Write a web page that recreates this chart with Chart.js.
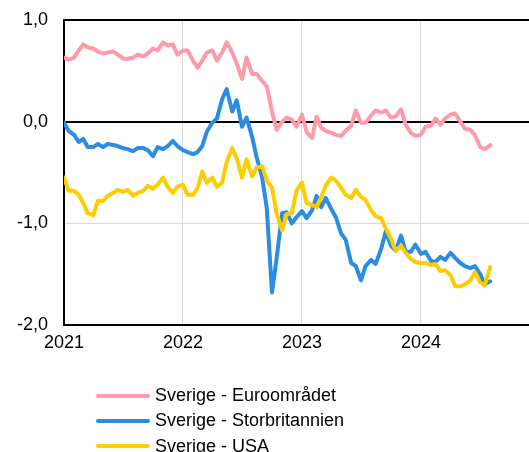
<!DOCTYPE html>
<html>
<head>
<meta charset="utf-8">
<script src="https://cdn.jsdelivr.net/npm/chart.js@4.4.1/dist/chart.umd.min.js"></script>
<style>
  body { margin: 0; background: #fff; font-family: "Liberation Sans", Arial, sans-serif; }
  #wrap { position: relative; width: 529px; height: 452px; overflow: hidden; }
  #legend { position: absolute; left: 96px; top: 383px; font-size: 18px; color: #000; }
  .item { display: flex; align-items: center; height: 25.3px; white-space: nowrap; }
  .swatch { width: 54px; height: 4px; border-radius: 2px; margin-right: 5px; }
</style>
</head>
<body>
<div id="wrap">
  <canvas id="chart" width="529" height="452"></canvas>
  <div id="legend"></div>
</div>
<script>
// semi-monthly observations
const dates = [
  "2021-01-01","2021-01-15","2021-02-01","2021-02-15","2021-03-01","2021-03-15","2021-04-01","2021-04-15","2021-05-01","2021-05-15","2021-06-01","2021-06-15",
  "2021-07-01","2021-07-15","2021-08-01","2021-08-15","2021-09-01","2021-09-15","2021-10-01","2021-10-15","2021-11-01","2021-11-15","2021-12-01","2021-12-15",
  "2022-01-01","2022-01-15","2022-02-01","2022-02-15","2022-03-01","2022-03-15","2022-04-01","2022-04-15","2022-05-01","2022-05-15","2022-06-01","2022-06-15",
  "2022-07-01","2022-07-15","2022-08-01","2022-08-15","2022-09-01","2022-09-15","2022-10-01","2022-10-15","2022-11-01","2022-11-15","2022-12-01","2022-12-15",
  "2023-01-01","2023-01-15","2023-02-01","2023-02-15","2023-03-01","2023-03-15","2023-04-01","2023-04-15","2023-05-01","2023-05-15","2023-06-01","2023-06-15",
  "2023-07-01","2023-07-15","2023-08-01","2023-08-15","2023-09-01","2023-09-15","2023-10-01","2023-10-15","2023-11-01","2023-11-15","2023-12-01","2023-12-15",
  "2024-01-01","2024-01-15","2024-02-01","2024-02-15","2024-03-01","2024-03-15","2024-04-01","2024-04-15","2024-05-01","2024-05-15","2024-06-01","2024-06-15",
  "2024-07-01","2024-07-15","2024-08-01"
];

const seEuro = [
  0.63,0.61,0.63,0.70,0.76,0.73,0.72,0.69,0.67,0.68,0.69,0.66,
  0.62,0.62,0.63,0.66,0.64,0.67,0.72,0.70,0.78,0.75,0.76,0.66,
  0.70,0.70,0.60,0.53,0.60,0.68,0.70,0.60,0.68,0.78,0.68,0.57,
  0.42,0.63,0.47,0.47,0.40,0.35,0.10,-0.08,0.00,0.04,0.02,-0.05,
  0.07,-0.10,-0.16,0.05,-0.06,-0.09,-0.11,-0.13,-0.14,-0.09,-0.04,0.11,
  -0.01,-0.01,0.06,0.11,0.09,0.11,0.04,0.05,0.12,-0.03,-0.11,-0.14,
  -0.13,-0.05,-0.04,0.03,-0.03,0.03,0.07,0.08,0.00,-0.07,-0.08,-0.13,
  -0.25,-0.27,-0.23
];

const seUk = [
  -0.01,-0.09,-0.13,-0.20,-0.17,-0.25,-0.25,-0.22,-0.25,-0.22,-0.23,-0.24,
  -0.26,-0.27,-0.29,-0.26,-0.26,-0.28,-0.34,-0.25,-0.27,-0.24,-0.19,-0.24,
  -0.28,-0.30,-0.32,-0.30,-0.24,-0.10,-0.01,0.03,0.22,0.32,0.10,0.21,
  -0.05,0.04,-0.15,-0.35,-0.55,-0.85,-1.68,-1.35,-0.90,-0.89,-1.00,-0.94,
  -0.88,-0.95,-0.87,-0.73,-0.84,-0.75,-0.86,-0.94,-1.10,-1.16,-1.39,-1.42,
  -1.56,-1.42,-1.36,-1.40,-1.25,-1.08,-1.22,-1.27,-1.12,-1.28,-1.28,-1.21,
  -1.30,-1.28,-1.37,-1.38,-1.33,-1.36,-1.29,-1.34,-1.39,-1.42,-1.44,-1.42,
  -1.50,-1.60,-1.57
];

const seUsa = [
  -0.55,-0.68,-0.68,-0.72,-0.80,-0.90,-0.92,-0.78,-0.78,-0.73,-0.70,-0.67,
  -0.69,-0.67,-0.73,-0.70,-0.68,-0.63,-0.66,-0.62,-0.55,-0.64,-0.70,-0.64,
  -0.62,-0.72,-0.72,-0.65,-0.49,-0.60,-0.55,-0.64,-0.60,-0.40,-0.26,-0.36,
  -0.55,-0.37,-0.54,-0.45,-0.44,-0.58,-0.65,-0.90,-1.07,-0.91,-0.90,-0.68,
  -0.60,-0.80,-0.82,-0.84,-0.74,-0.63,-0.55,-0.58,-0.65,-0.72,-0.75,-0.67,
  -0.74,-0.77,-0.87,-0.93,-0.95,-1.05,-1.15,-1.27,-1.22,-1.29,-1.35,-1.38,
  -1.39,-1.39,-1.41,-1.40,-1.47,-1.46,-1.51,-1.62,-1.62,-1.60,-1.56,-1.48,
  -1.58,-1.61,-1.43
];

const seriesNames = ["Sverige - Euroområdet", "Sverige - Storbritannien", "Sverige - USA"];
const seriesColors = ["#ff9aab", "#2a8de1", "#ffcc00"];
const xTicks = [2021, 2022, 2023, 2024];
const yTicks = [-2, -1, 0, 1];

// date string -> decimal year
function toYear(s) {
  const [y, m, d] = s.split("-").map(Number);
  const t0 = Date.UTC(y, 0, 1);
  const t1 = Date.UTC(y + 1, 0, 1);
  return y + (Date.UTC(y, m - 1, d) - t0) / (t1 - t0);
}
const xs = dates.map(toYear);
const points = (vals) => vals.map((v, i) => ({ x: xs[i], y: v }));

const allSeries = [seEuro, seUk, seUsa];
const datasets = allSeries.map((vals, i) => ({
  label: seriesNames[i],
  data: points(vals),
  borderColor: seriesColors[i],
  backgroundColor: seriesColors[i],
  order: 3 - i,
}));

const isBlack = (v) => v === 0 || v === 1;
const tickFont = { size: 18, family: "'Liberation Sans', Arial, sans-serif" };

new Chart(document.getElementById("chart"), {
  type: "line",
  data: { datasets: datasets },
  options: {
    responsive: false,
    animation: false,
    layout: { padding: { top: 20, right: 0, bottom: 97, left: 0 } },
    plugins: { legend: { display: false }, tooltip: { enabled: false } },
    elements: {
      point: { radius: 0 },
      line: { borderWidth: 4, tension: 0, borderJoinStyle: "round", borderCapStyle: "round" },
    },
    scales: {
      x: {
        type: "linear",
        min: 2021,
        max: 2024.908,
        afterBuildTicks: (s) => {
          s.ticks = xTicks.map((v) => ({ value: v }));
        },
        afterFit: (s) => {
          s.height = 30;
          s.paddingLeft = 0;
          s.paddingRight = 0;
        },
        ticks: {
          color: "#000",
          font: tickFont,
          padding: 7,
          maxRotation: 0,
          callback: (v) => String(v),
        },
        grid: { color: "#d9d9d9", lineWidth: 1, drawTicks: false },
        border: { color: "#000", width: 2 },
      },
      y: {
        min: -2,
        max: 1,
        afterBuildTicks: (s) => {
          s.ticks = yTicks.map((v) => ({ value: v }));
        },
        afterFit: (s) => {
          s.width = 64;
          s.paddingTop = 0;
          s.paddingBottom = 0;
        },
        ticks: {
          color: "#000",
          font: tickFont,
          padding: 16,
          callback: (v) => v.toFixed(1).replace(".", ","),
        },
        grid: {
          drawTicks: false,
          color: (ctx) => (ctx.tick && isBlack(ctx.tick.value) ? "#000" : "#d9d9d9"),
          lineWidth: (ctx) => (ctx.tick && isBlack(ctx.tick.value) ? 2 : 1),
        },
        border: { color: "#000", width: 2 },
      },
    },
  },
});

// legend, one entry per row
const legend = document.getElementById("legend");
seriesNames.forEach((name, i) => {
  const row = document.createElement("div");
  row.className = "item";
  const sw = document.createElement("span");
  sw.className = "swatch";
  sw.style.background = seriesColors[i];
  const txt = document.createElement("span");
  txt.textContent = name;
  row.appendChild(sw);
  row.appendChild(txt);
  legend.appendChild(row);
});
</script>
</body>
</html>
